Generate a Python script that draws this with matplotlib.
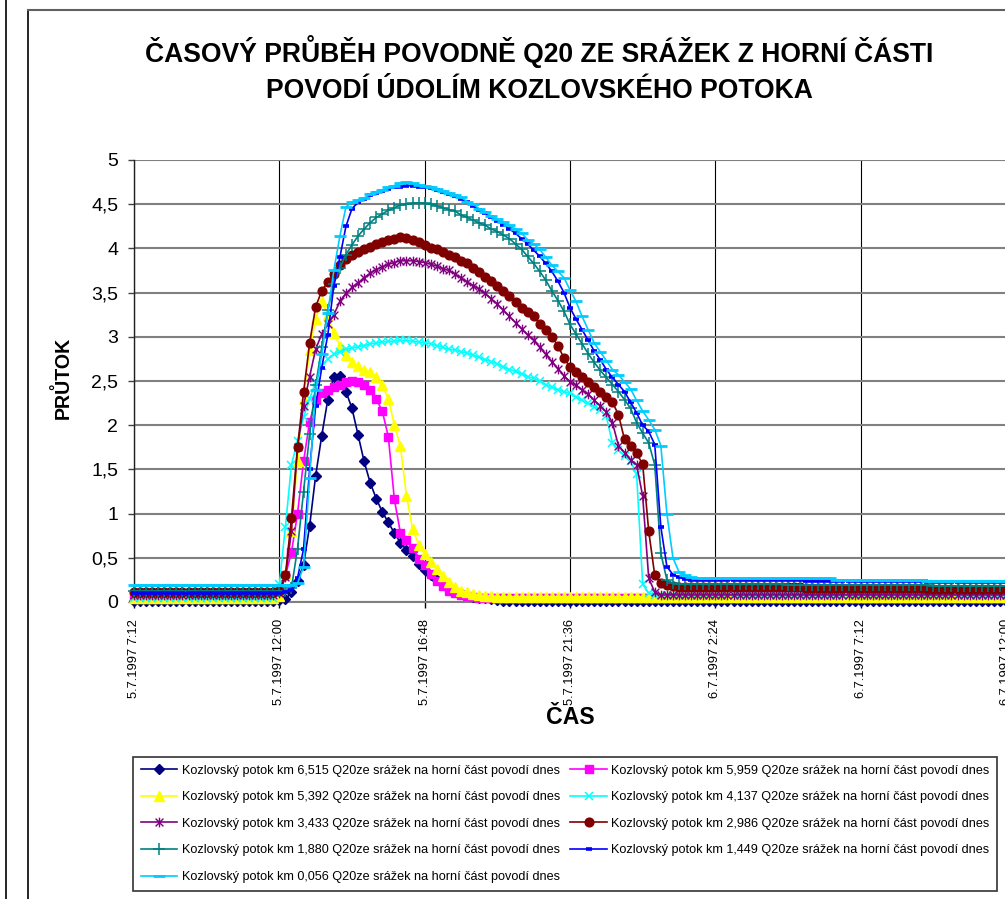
import datetime as dt
import numpy as np
import pandas as pd
import matplotlib
matplotlib.use("Agg")
import matplotlib.pyplot as plt
import matplotlib.dates as mdates
from matplotlib.lines import Line2D
from matplotlib.path import Path
from matplotlib import font_manager as fm
from matplotlib.ticker import FixedLocator, FixedFormatter

# ---------------- data ----------------
title = "ČASOVÝ PRŮBĚH POVODNĚ Q20 ZE SRÁŽEK Z HORNÍ ČÁSTI\nPOVODÍ ÚDOLÍM KOZLOVSKÉHO POTOKA"
y_label = "PRŮTOK"
x_label = "ČAS"

start_time = "5.7.1997 7:12"
n_points = 145
step_minutes = 12

x_tick_labels = ["5.7.1997 7:12", "5.7.1997 12:00", "5.7.1997 16:48", "5.7.1997 21:36",
                 "6.7.1997 2:24", "6.7.1997 7:12", "6.7.1997 12:00"]
y_ticks = [0, 0.5, 1, 1.5, 2, 2.5, 3, 3.5, 4, 4.5, 5]
y_tick_labels = ["0", "0,5", "1", "1,5", "2", "2,5", "3", "3,5", "4", "4,5", "5"]

series_names = [
    "Kozlovský potok km 6,515 Q20ze srážek na horní část povodí dnes",
    "Kozlovský potok km 5,959 Q20ze srážek na horní část povodí dnes",
    "Kozlovský potok km 5,392 Q20ze srážek na horní část povodí dnes",
    "Kozlovský potok km 4,137 Q20ze srážek na horní část povodí dnes",
    "Kozlovský potok km 3,433 Q20ze srážek na horní část povodí dnes",
    "Kozlovský potok km 2,986 Q20ze srážek na horní část povodí dnes",
    "Kozlovský potok km 1,880 Q20ze srážek na horní část povodí dnes",
    "Kozlovský potok km 1,449 Q20ze srážek na horní část povodí dnes",
    "Kozlovský potok km 0,056 Q20ze srážek na horní část povodí dnes",
]

q_6515 = [
    0.01, 0.01, 0.01, 0.01, 0.01, 0.01, 0.01, 0.01, 0.01, 0.01, 0.01, 0.01,
    0.01, 0.01, 0.01, 0.01, 0.01, 0.01, 0.01, 0.01, 0.01, 0.01, 0.01, 0.01,
    0.02, 0.03, 0.11, 0.24, 0.42, 0.86, 1.43, 1.88, 2.29, 2.55, 2.56, 2.38,
    2.19, 1.89, 1.59, 1.35, 1.17, 1.02, 0.90, 0.78, 0.67, 0.59, 0.52, 0.43,
    0.36, 0.31, 0.25, 0.20, 0.16, 0.12, 0.10, 0.08, 0.06, 0.05, 0.04, 0.03,
    0.02, 0.01, 0.01, 0.01, 0.01, 0.01, 0.01, 0.01, 0.01, 0.01, 0.01, 0.01,
    0.01, 0.01, 0.01, 0.01, 0.01, 0.01, 0.01, 0.01, 0.01, 0.01, 0.01, 0.01,
    0.01, 0.01, 0.01, 0.01, 0.01, 0.01, 0.01, 0.01, 0.01, 0.01, 0.01, 0.01,
    0.01, 0.01, 0.01, 0.01, 0.01, 0.01, 0.01, 0.01, 0.01, 0.01, 0.01, 0.01,
    0.01, 0.01, 0.01, 0.01, 0.01, 0.01, 0.01, 0.01, 0.01, 0.01, 0.01, 0.01,
    0.01, 0.01, 0.01, 0.01, 0.01, 0.01, 0.01, 0.01, 0.01, 0.01, 0.01, 0.01,
    0.01, 0.01, 0.01, 0.01, 0.01, 0.01, 0.01, 0.01, 0.01, 0.01, 0.01, 0.01,
    0.01,
]
q_5959 = [
    0.04, 0.04, 0.04, 0.04, 0.04, 0.04, 0.04, 0.04, 0.04, 0.04, 0.04, 0.04,
    0.04, 0.04, 0.04, 0.04, 0.04, 0.04, 0.04, 0.04, 0.04, 0.04, 0.05, 0.06,
    0.14, 0.30, 0.56, 1.00, 1.59, 2.04, 2.29, 2.36, 2.40, 2.43, 2.46, 2.49,
    2.50, 2.49, 2.45, 2.40, 2.30, 2.16, 1.87, 1.16, 0.78, 0.70, 0.61, 0.49,
    0.42, 0.32, 0.24, 0.18, 0.13, 0.10, 0.08, 0.07, 0.06, 0.05, 0.05, 0.05,
    0.05, 0.05, 0.05, 0.05, 0.05, 0.05, 0.05, 0.05, 0.05, 0.05, 0.05, 0.05,
    0.05, 0.05, 0.05, 0.05, 0.05, 0.05, 0.05, 0.05, 0.05, 0.05, 0.05, 0.05,
    0.05, 0.05, 0.05, 0.05, 0.05, 0.05, 0.05, 0.05, 0.05, 0.05, 0.05, 0.05,
    0.05, 0.05, 0.05, 0.05, 0.05, 0.05, 0.05, 0.05, 0.05, 0.05, 0.05, 0.05,
    0.05, 0.05, 0.05, 0.05, 0.05, 0.05, 0.05, 0.05, 0.05, 0.05, 0.05, 0.05,
    0.05, 0.05, 0.05, 0.05, 0.05, 0.05, 0.05, 0.05, 0.05, 0.05, 0.05, 0.05,
    0.05, 0.05, 0.05, 0.05, 0.05, 0.05, 0.05, 0.05, 0.05, 0.05, 0.05, 0.05,
    0.05,
]
q_5392 = [
    0.04, 0.04, 0.04, 0.04, 0.04, 0.04, 0.04, 0.04, 0.04, 0.04, 0.04, 0.04,
    0.04, 0.04, 0.04, 0.04, 0.04, 0.04, 0.04, 0.04, 0.04, 0.04, 0.04, 0.04,
    0.07, 0.32, 0.80, 1.60, 2.30, 2.85, 3.20, 3.41, 3.25, 3.04, 2.90, 2.79,
    2.72, 2.67, 2.63, 2.60, 2.54, 2.45, 2.30, 2.00, 1.76, 1.20, 0.83, 0.65,
    0.54, 0.45, 0.37, 0.29, 0.23, 0.17, 0.13, 0.11, 0.09, 0.08, 0.07, 0.07,
    0.06, 0.06, 0.06, 0.06, 0.06, 0.06, 0.06, 0.06, 0.06, 0.06, 0.06, 0.06,
    0.06, 0.06, 0.06, 0.06, 0.06, 0.06, 0.06, 0.06, 0.06, 0.06, 0.06, 0.06,
    0.06, 0.06, 0.06, 0.06, 0.06, 0.06, 0.06, 0.06, 0.06, 0.06, 0.06, 0.06,
    0.06, 0.06, 0.06, 0.06, 0.06, 0.06, 0.06, 0.06, 0.06, 0.06, 0.06, 0.06,
    0.06, 0.06, 0.06, 0.06, 0.06, 0.06, 0.06, 0.06, 0.06, 0.06, 0.06, 0.06,
    0.06, 0.06, 0.06, 0.06, 0.06, 0.06, 0.06, 0.06, 0.06, 0.06, 0.06, 0.06,
    0.06, 0.06, 0.06, 0.06, 0.06, 0.06, 0.06, 0.06, 0.06, 0.06, 0.06, 0.06,
    0.06,
]
q_4137 = [
    0.05, 0.05, 0.05, 0.05, 0.05, 0.05, 0.05, 0.05, 0.05, 0.05, 0.05, 0.05,
    0.05, 0.05, 0.05, 0.05, 0.05, 0.05, 0.05, 0.05, 0.05, 0.05, 0.05, 0.05,
    0.20, 0.85, 1.55, 1.82, 2.09, 2.30, 2.49, 2.67, 2.75, 2.80, 2.83, 2.86,
    2.87, 2.89, 2.90, 2.92, 2.93, 2.94, 2.95, 2.95, 2.96, 2.96, 2.95, 2.94,
    2.93, 2.92, 2.90, 2.88, 2.86, 2.85, 2.83, 2.82, 2.79, 2.77, 2.74, 2.72,
    2.69, 2.66, 2.63, 2.61, 2.58, 2.55, 2.53, 2.50, 2.46, 2.43, 2.40, 2.38,
    2.36, 2.32, 2.28, 2.25, 2.21, 2.17, 2.10, 1.80, 1.72, 1.65, 1.59, 1.45,
    0.20, 0.10, 0.08, 0.08, 0.08, 0.08, 0.08, 0.08, 0.08, 0.08, 0.08, 0.08,
    0.08, 0.08, 0.08, 0.08, 0.08, 0.08, 0.08, 0.08, 0.08, 0.08, 0.08, 0.08,
    0.08, 0.08, 0.08, 0.08, 0.08, 0.08, 0.08, 0.08, 0.08, 0.08, 0.08, 0.08,
    0.08, 0.08, 0.08, 0.08, 0.08, 0.08, 0.08, 0.08, 0.08, 0.08, 0.08, 0.08,
    0.08, 0.08, 0.08, 0.08, 0.08, 0.08, 0.08, 0.08, 0.08, 0.08, 0.08, 0.08,
    0.08,
]
q_3433 = [
    0.08, 0.08, 0.08, 0.08, 0.08, 0.08, 0.08, 0.08, 0.08, 0.08, 0.08, 0.08,
    0.08, 0.08, 0.08, 0.08, 0.08, 0.08, 0.08, 0.08, 0.08, 0.08, 0.08, 0.08,
    0.10, 0.28, 0.80, 1.75, 2.22, 2.55, 2.86, 3.03, 3.14, 3.25, 3.40, 3.49,
    3.56, 3.61, 3.67, 3.72, 3.76, 3.79, 3.82, 3.84, 3.86, 3.86, 3.86, 3.85,
    3.84, 3.82, 3.80, 3.77, 3.75, 3.71, 3.67, 3.62, 3.58, 3.54, 3.49, 3.43,
    3.37, 3.30, 3.23, 3.16, 3.09, 3.02, 2.96, 2.88, 2.80, 2.72, 2.64, 2.56,
    2.49, 2.45, 2.40, 2.35, 2.28, 2.22, 2.15, 2.03, 1.77, 1.69, 1.61, 1.55,
    1.20, 0.27, 0.11, 0.08, 0.08, 0.08, 0.08, 0.08, 0.08, 0.08, 0.08, 0.08,
    0.08, 0.08, 0.08, 0.08, 0.08, 0.08, 0.08, 0.08, 0.08, 0.08, 0.08, 0.08,
    0.08, 0.08, 0.08, 0.08, 0.08, 0.08, 0.08, 0.08, 0.08, 0.08, 0.08, 0.08,
    0.08, 0.08, 0.08, 0.08, 0.08, 0.08, 0.08, 0.08, 0.08, 0.08, 0.08, 0.08,
    0.08, 0.08, 0.08, 0.08, 0.08, 0.08, 0.08, 0.08, 0.08, 0.08, 0.08, 0.08,
    0.08,
]
q_2986 = [
    0.11, 0.11, 0.11, 0.11, 0.11, 0.11, 0.11, 0.11, 0.11, 0.11, 0.11, 0.11,
    0.11, 0.11, 0.11, 0.11, 0.11, 0.11, 0.11, 0.11, 0.11, 0.11, 0.11, 0.11,
    0.13, 0.30, 0.95, 1.75, 2.37, 2.93, 3.34, 3.52, 3.62, 3.71, 3.81, 3.88,
    3.92, 3.96, 3.99, 4.02, 4.05, 4.07, 4.09, 4.11, 4.13, 4.12, 4.10, 4.07,
    4.04, 4.01, 3.99, 3.96, 3.93, 3.90, 3.86, 3.83, 3.78, 3.73, 3.68, 3.63,
    3.58, 3.52, 3.46, 3.39, 3.33, 3.28, 3.23, 3.15, 3.08, 3.00, 2.90, 2.76,
    2.66, 2.60, 2.55, 2.49, 2.43, 2.37, 2.32, 2.26, 2.12, 1.84, 1.77, 1.68,
    1.56, 0.80, 0.30, 0.21, 0.19, 0.18, 0.17, 0.17, 0.17, 0.17, 0.17, 0.17,
    0.17, 0.17, 0.17, 0.17, 0.17, 0.17, 0.17, 0.17, 0.17, 0.17, 0.17, 0.17,
    0.17, 0.17, 0.17, 0.16, 0.16, 0.16, 0.16, 0.16, 0.16, 0.16, 0.16, 0.16,
    0.16, 0.16, 0.16, 0.16, 0.16, 0.16, 0.16, 0.16, 0.16, 0.16, 0.16, 0.15,
    0.15, 0.15, 0.15, 0.15, 0.15, 0.15, 0.15, 0.15, 0.15, 0.15, 0.15, 0.15,
    0.15,
]
q_1880 = [
    0.12, 0.12, 0.12, 0.12, 0.12, 0.12, 0.12, 0.12, 0.12, 0.12, 0.12, 0.12,
    0.12, 0.12, 0.12, 0.12, 0.12, 0.12, 0.12, 0.12, 0.12, 0.12, 0.12, 0.12,
    0.12, 0.13, 0.16, 0.60, 1.25, 1.90, 2.45, 2.88, 3.30, 3.60, 3.78, 3.93,
    4.04, 4.14, 4.22, 4.29, 4.35, 4.39, 4.43, 4.46, 4.49, 4.50, 4.51, 4.51,
    4.51, 4.50, 4.48, 4.46, 4.44, 4.42, 4.38, 4.35, 4.32, 4.29, 4.26, 4.22,
    4.19, 4.15, 4.11, 4.05, 3.99, 3.91, 3.83, 3.74, 3.64, 3.52, 3.41, 3.29,
    3.14, 3.03, 2.92, 2.81, 2.71, 2.62, 2.54, 2.46, 2.38, 2.29, 2.19, 2.03,
    1.91, 1.80, 1.55, 0.55, 0.25, 0.21, 0.20, 0.20, 0.20, 0.20, 0.20, 0.20,
    0.20, 0.20, 0.20, 0.20, 0.20, 0.20, 0.20, 0.20, 0.20, 0.20, 0.20, 0.20,
    0.19, 0.19, 0.19, 0.19, 0.19, 0.19, 0.19, 0.19, 0.19, 0.19, 0.19, 0.19,
    0.19, 0.19, 0.19, 0.19, 0.19, 0.19, 0.19, 0.19, 0.19, 0.19, 0.19, 0.19,
    0.18, 0.18, 0.18, 0.18, 0.18, 0.18, 0.18, 0.18, 0.18, 0.18, 0.18, 0.18,
    0.18,
]
q_1449 = [
    0.10, 0.10, 0.10, 0.10, 0.10, 0.10, 0.10, 0.10, 0.10, 0.10, 0.10, 0.10,
    0.10, 0.10, 0.10, 0.10, 0.10, 0.10, 0.10, 0.10, 0.10, 0.10, 0.10, 0.10,
    0.10, 0.11, 0.14, 0.27, 0.60, 1.50, 2.22, 2.65, 3.02, 3.58, 3.90, 4.25,
    4.45, 4.52, 4.56, 4.60, 4.63, 4.65, 4.67, 4.69, 4.70, 4.71, 4.71, 4.70,
    4.70, 4.68, 4.66, 4.64, 4.62, 4.59, 4.56, 4.52, 4.48, 4.44, 4.40, 4.35,
    4.31, 4.27, 4.22, 4.17, 4.11, 4.05, 3.98, 3.91, 3.83, 3.74, 3.63, 3.50,
    3.33, 3.20, 3.08, 2.96, 2.84, 2.74, 2.63, 2.54, 2.46, 2.38, 2.26, 2.14,
    2.00, 1.93, 1.78, 0.85, 0.40, 0.31, 0.28, 0.26, 0.25, 0.25, 0.25, 0.25,
    0.25, 0.25, 0.25, 0.25, 0.25, 0.25, 0.25, 0.25, 0.25, 0.25, 0.25, 0.25,
    0.25, 0.25, 0.25, 0.24, 0.24, 0.24, 0.24, 0.24, 0.24, 0.24, 0.24, 0.24,
    0.24, 0.24, 0.24, 0.24, 0.24, 0.24, 0.24, 0.24, 0.24, 0.24, 0.24, 0.23,
    0.23, 0.23, 0.23, 0.23, 0.23, 0.23, 0.23, 0.23, 0.23, 0.23, 0.23, 0.23,
    0.23,
]
q_0056 = [
    0.19, 0.19, 0.19, 0.19, 0.19, 0.19, 0.19, 0.19, 0.19, 0.19, 0.19, 0.19,
    0.19, 0.19, 0.19, 0.19, 0.19, 0.19, 0.19, 0.19, 0.19, 0.19, 0.19, 0.19,
    0.19, 0.19, 0.19, 0.21, 0.40, 1.40, 2.40, 2.80, 3.27, 3.75, 4.14, 4.47,
    4.52, 4.55, 4.57, 4.61, 4.64, 4.66, 4.69, 4.71, 4.74, 4.75, 4.74, 4.72,
    4.71, 4.69, 4.67, 4.65, 4.63, 4.60, 4.58, 4.53, 4.50, 4.45, 4.41, 4.37,
    4.33, 4.30, 4.26, 4.22, 4.17, 4.10, 4.05, 3.99, 3.90, 3.81, 3.74, 3.67,
    3.53, 3.40, 3.23, 3.08, 2.93, 2.83, 2.73, 2.63, 2.57, 2.49, 2.41, 2.28,
    2.16, 2.06, 1.95, 1.77, 1.00, 0.50, 0.34, 0.30, 0.28, 0.27, 0.27, 0.27,
    0.27, 0.27, 0.27, 0.27, 0.27, 0.27, 0.27, 0.27, 0.27, 0.27, 0.27, 0.27,
    0.27, 0.27, 0.27, 0.27, 0.27, 0.27, 0.27, 0.27, 0.25, 0.25, 0.25, 0.25,
    0.25, 0.25, 0.25, 0.25, 0.25, 0.25, 0.25, 0.25, 0.25, 0.25, 0.25, 0.24,
    0.24, 0.24, 0.24, 0.24, 0.24, 0.24, 0.24, 0.24, 0.24, 0.24, 0.24, 0.24,
    0.24,
]

# ---------------- styling ----------------
def has_font(name):
    try:
        fm.findfont(fm.FontProperties(family=name), fallback_to_default=False)
        return True
    except Exception:
        return False

NARROW_OK = has_font("Liberation Sans Narrow")
narrow = ["Liberation Sans Narrow", "Liberation Sans", "DejaVu Sans"] if NARROW_OK else ["Liberation Sans", "DejaVu Sans"]
regular = ["Liberation Sans", "DejaVu Sans"]
k = 1.0 if NARROW_OK else 0.83

plt.rcParams["font.family"] = regular

star = Path([(-1, -1), (1, 1), (-1, 1), (1, -1), (0, -1.25), (0, 1.25)],
            [Path.MOVETO, Path.LINETO, Path.MOVETO, Path.LINETO, Path.MOVETO, Path.LINETO])

styles = [
    dict(color="#000080", marker="D", ms=5.5, mfc="#000080", mec="#000080"),
    dict(color="#FF00FF", marker="s", ms=5.8, mfc="#FF00FF", mec="#FF00FF"),
    dict(color="#FFFF00", marker="^", ms=7.5, mfc="#FFFF00", mec="#FFFF00"),
    dict(color="#00FFFF", marker="x", ms=6, mew=1.1, mec="#00FFFF"),
    dict(color="#800080", marker=star, ms=7, mew=1.0, mec="#800080"),
    dict(color="#800000", marker="o", ms=6.3, mfc="#800000", mec="#800000"),
    dict(color="#008080", marker="+", ms=8, mew=1.1, mec="#008080"),
    dict(color="#0000FF", marker="_", ms=5, mew=2.6, mec="#0000FF"),
    dict(color="#00CCFF", marker="_", ms=8, mew=2.0, mec="#00CCFF"),
]
series_values = [q_6515, q_5959, q_5392, q_4137, q_3433, q_2986, q_1880, q_1449, q_0056]

W, H = 1005, 899
fig = plt.figure(figsize=(W / 100, H / 100), dpi=100)
fig.patch.set_facecolor("white")

ax_left, ax_right, ax_top, ax_bottom = 134, 1006, 160, 602
ax = fig.add_axes([ax_left / W, 1 - ax_bottom / H, (ax_right - ax_left) / W, (ax_bottom - ax_top) / H])

fmt = "%d.%m.%Y %H:%M"
t0 = dt.datetime.strptime(start_time, fmt)
times = pd.date_range(start=t0, periods=n_points, freq=f"{step_minutes}min")
tick_times = [dt.datetime.strptime(s, fmt) for s in x_tick_labels]

handles = []
for name, vals, st in zip(series_names, series_values, styles):
    (h,) = ax.plot(times, vals, lw=1.2, label=name, clip_on=False, zorder=3, **st)
    handles.append(h)

ax.set_xlim(mdates.date2num(tick_times[0]), mdates.date2num(tick_times[-1]))
ax.set_ylim(0, 5)

ax.xaxis.set_major_locator(FixedLocator(mdates.date2num(tick_times)))
ax.xaxis.set_major_formatter(FixedFormatter(x_tick_labels))
ax.yaxis.set_major_locator(FixedLocator(y_ticks))
ax.yaxis.set_major_formatter(FixedFormatter(y_tick_labels))

ax.tick_params(axis="x", direction="out", length=4, width=1, color="black",
               labelsize=9.3, labelrotation=90, pad=8)
ax.tick_params(axis="y", direction="out", length=4.3, width=1, color="#404040",
               labelsize=14, pad=7)

ax.set_axisbelow(True)
ax.yaxis.grid(True, color="#808080", lw=1.5)
ax.xaxis.grid(True, color="black", lw=0.8)

for s in ["top", "right"]:
    ax.spines[s].set_visible(False)
ax.spines["left"].set_color("#202020")
ax.spines["left"].set_linewidth(1.0)
ax.spines["bottom"].set_color("#808080")
ax.spines["bottom"].set_linewidth(1.5)

ax.set_ylabel(y_label, fontsize=17 * k, fontweight="bold", family=narrow)
ax.yaxis.label.set_va("center")
ax.yaxis.set_label_coords((63 - ax_left) / (ax_right - ax_left), (ax_bottom - 378) / (ax_bottom - ax_top))
ax.set_xlabel(x_label, fontsize=20 * k, fontweight="bold", family=narrow)
ax.xaxis.label.set_va("center")
ax.xaxis.set_label_coords((570 - ax_left) / (ax_right - ax_left), (ax_bottom - 718) / (ax_bottom - ax_top))

fig.text(539 / W, 1 - 69 / H, title, ha="center", va="center", multialignment="center",
         fontsize=23 * k, fontweight="bold", family=narrow, linespacing=1.5)

order = [0, 2, 4, 6, 8, 1, 3, 5, 7]
leg = fig.legend([handles[i] for i in order], [series_names[i] for i in order],
                 ncol=2, loc="upper left", bbox_to_anchor=(133 / W, 1 - 757 / H),
                 bbox_transform=fig.transFigure, frameon=True, fancybox=False,
                 edgecolor="black", numpoints=1, handlelength=2.9, handletextpad=0.35,
                 columnspacing=0.8, labelspacing=1.15, borderpad=0.6, borderaxespad=0,
                 prop=fm.FontProperties(family=narrow, size=11 * k))
leg.get_frame().set_linewidth(1.2)

# page / chart frame lines
fig.add_artist(Line2D([6 / W, 6 / W], [0, 1], transform=fig.transFigure, color="black", lw=1.2))
fig.add_artist(Line2D([28 / W, 28 / W], [0, 1 - 10 / H], transform=fig.transFigure, color="black", lw=1.2))
fig.add_artist(Line2D([28 / W, 1], [1 - 10 / H, 1 - 10 / H], transform=fig.transFigure, color="#606060", lw=1.5))

fig.savefig("out.png", dpi=100, facecolor="white")
